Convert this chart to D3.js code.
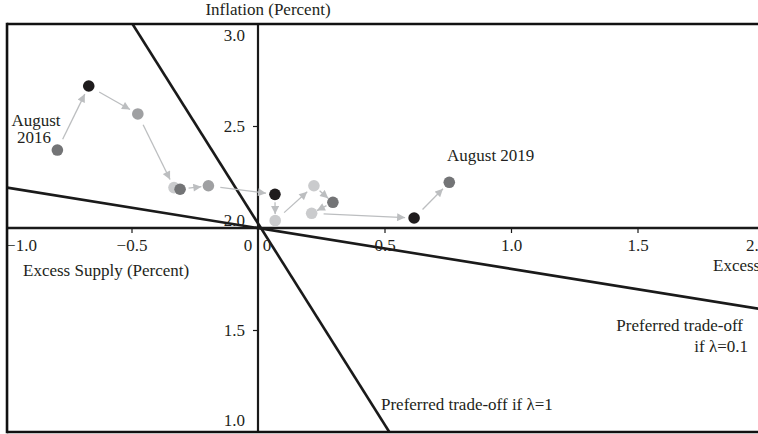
<!DOCTYPE html>
<html>
<head>
<meta charset="utf-8">
<script src="https://cdn.jsdelivr.net/npm/d3@7/dist/d3.min.js"></script>
<style>
  html, body { margin: 0; padding: 0; background: #fff; }
  svg { display: block; }
  text { font-family: "Liberation Serif", "DejaVu Serif", serif; fill: #231f20; }
</style>
</head>
<body>
<svg id="chart" width="758" height="434"></svg>
<script>
// ---- data ----
const dates = ["Aug 2016","Nov 2016","Feb 2017","May 2017","Aug 2017","Nov 2017","Feb 2018",
               "May 2018","Aug 2018","Nov 2018","Feb 2019","May 2019","Aug 2019"];
const excessDemand = [-0.793, -0.669, -0.475, -0.332, -0.308, -0.196, 0.067, 0.068, 0.221, 0.296, 0.212, 0.617, 0.756];
const inflation    = [2.382, 2.696, 2.559, 2.198, 2.190, 2.207, 2.165, 2.036, 2.207, 2.126, 2.072, 2.049, 2.224];
const shadeGroup   = ["dark","black","mid","light","dark","mid","black","light","light","dark","light","black","dark"];

const tradeoff1X = [-0.496, 0.519];   // lambda = 1
const tradeoff1Y = [3.0, 1.0];
const tradeoff01X = [-0.992, 2.0];    // lambda = 0.1
const tradeoff01Y = [2.198, 1.60];

const xTicks = [-1.0, -0.5, 0.5, 1.0, 1.5, 2.0];
const xTickLabels = ["\u22121.0", "\u22120.5", "0.5", "1.0", "1.5", "2.0"];
const yTicks = [1.0, 1.5, 2.0, 2.5, 3.0];
const yTickLabels = ["1.0", "1.5", "2.0", "2.5", "3.0"];

// ---- setup ----
const W = 758, H = 434;
const svg = d3.select("#chart");
const x = d3.scaleLinear().domain([-1, 2]).range([5, 764]);
const y = d3.scaleLinear().domain([1, 3]).range([432, 24]);
const color = d3.scaleOrdinal().domain(["black","dark","mid","light"])
  .range(["#1f1c1d", "#737476", "#9fa0a2", "#cacbcd"]);

const fLeft = x(-0.992), fTop = y(3), fBottom = y(1), fRight = W + 20;
const FS = 17;

const defs = svg.append("defs");
defs.append("clipPath").attr("id", "plot")
  .append("rect").attr("x", fLeft).attr("y", fTop).attr("width", fRight - fLeft).attr("height", fBottom - fTop);

defs.append("marker")
  .attr("id", "arrow").attr("viewBox", "0 0 10 10").attr("refX", 10).attr("refY", 5)
  .attr("markerWidth", 9).attr("markerHeight", 8).attr("markerUnits", "userSpaceOnUse")
  .attr("orient", "auto")
  .append("path").attr("d", "M0,0 L10,5 L0,10 Z").attr("fill", "#bcbec0");

const plot = svg.append("g").attr("clip-path", "url(#plot)");

// trade-off lines
const line = d3.line().x(d => x(d[0])).y(d => y(d[1]));
plot.append("path").datum(d3.zip(tradeoff1X, tradeoff1Y)).attr("d", line)
  .attr("stroke", "#1a1a1a").attr("stroke-width", 2.6).attr("fill", "none");
plot.append("path").datum(d3.zip(tradeoff01X, tradeoff01Y)).attr("d", line)
  .attr("stroke", "#1a1a1a").attr("stroke-width", 2.6).attr("fill", "none");

// axes
const xAxis = d3.axisBottom(x).tickValues(xTicks).tickSize(5).tickPadding(6)
  .tickFormat((d, i) => xTickLabels[i]);
const gx = svg.append("g").attr("transform", `translate(0,${y(2)})`).call(xAxis);
gx.select(".domain").remove();
gx.append("line").attr("x1", fLeft).attr("x2", fRight).attr("stroke", "#1a1a1a").attr("stroke-width", 2.4);
gx.selectAll(".tick line").attr("stroke", "#1a1a1a").attr("stroke-width", 1.2);
gx.selectAll(".tick text").attr("font-size", FS).attr("font-family", null).attr("fill", "#231f20");
gx.selectAll(".tick").filter(d => d === -1).select("text").attr("x", 16);
gx.selectAll(".tick").filter(d => d === -1).select("line").remove();
gx.selectAll(".tick").filter(d => d === 2).select("text").attr("x", -8);

const yAxis = d3.axisLeft(y).tickValues(yTicks).tickSize(5).tickPadding(8)
  .tickFormat((d, i) => yTickLabels[i]);
const gy = svg.append("g").attr("transform", `translate(${x(0)},0)`).call(yAxis);
gy.select(".domain").remove();
gy.append("line").attr("y1", fTop).attr("y2", fBottom).attr("stroke", "#1a1a1a").attr("stroke-width", 2.2);
gy.selectAll(".tick line").attr("stroke", "#1a1a1a").attr("stroke-width", 1.2);
gy.selectAll(".tick text").attr("font-size", FS).attr("font-family", null).attr("fill", "#231f20");
gy.selectAll(".tick").filter(d => d === 3 || d === 1 || d === 2).select("line").remove();
gy.selectAll(".tick").filter(d => d === 3).select("text").attr("dy", "0.95em").attr("y", 0);
gy.selectAll(".tick").filter(d => d === 1).select("text").attr("y", -12);
gy.selectAll(".tick").filter(d => d === 2).select("text").attr("y", -8);

// zero labels
svg.append("text").attr("x", x(0) - 10).attr("y", y(2) + 23).attr("text-anchor", "middle").attr("font-size", FS).text("0");
svg.append("text").attr("x", x(0) + 9).attr("y", y(2) + 23).attr("text-anchor", "middle").attr("font-size", FS).text("0");

// frame
svg.append("line").attr("x1", fLeft).attr("x2", fLeft).attr("y1", fTop - 1.2).attr("y2", fBottom + 1.2)
  .attr("stroke", "#111").attr("stroke-width", 2.6);
svg.append("line").attr("x1", fLeft).attr("x2", fRight).attr("y1", fTop).attr("y2", fTop)
  .attr("stroke", "#111").attr("stroke-width", 2.6);
svg.append("line").attr("x1", fLeft).attr("x2", fRight).attr("y1", fBottom).attr("y2", fBottom)
  .attr("stroke", "#111").attr("stroke-width", 2.6);

// arrows between consecutive points
const pts = excessDemand.map((v, i) => ({x: x(v), y: y(inflation[i]), g: shadeGroup[i], date: dates[i]}));
const segs = d3.pairs(pts);
svg.append("g").selectAll("line").data(segs).join("line")
  .each(function([a, b]) {
    const dx = b.x - a.x, dy = b.y - a.y, L = Math.hypot(dx, dy);
    const s = Math.min(12, L * 0.3), e = Math.min(9, L * 0.25);
    d3.select(this)
      .attr("x1", a.x + dx / L * s).attr("y1", a.y + dy / L * s)
      .attr("x2", b.x - dx / L * e).attr("y2", b.y - dy / L * e);
  })
  .attr("stroke", "#bcbec0").attr("stroke-width", 1.3)
  .attr("marker-end", (d) => Math.hypot(d[1].x - d[0].x, d[1].y - d[0].y) > 20 ? "url(#arrow)" : null);

// points
svg.append("g").selectAll("circle").data(pts).join("circle")
  .attr("cx", d => d.x).attr("cy", d => d.y).attr("r", 5.8)
  .attr("fill", d => color(d.g));

// titles and annotations
svg.append("text").attr("x", 268).attr("y", 15).attr("text-anchor", "middle").attr("font-size", FS).text("Inflation (Percent)");
svg.append("text").attr("x", 23).attr("y", 276).attr("font-size", FS).text("Excess Supply (Percent)");
svg.append("text").attr("x", 713).attr("y", 271).attr("font-size", FS).text("Excess Demand (Percent)");
svg.append("text").attr("x", 36).attr("y", 126).attr("text-anchor", "middle").attr("font-size", FS).text("August");
svg.append("text").attr("x", 34).attr("y", 143).attr("text-anchor", "middle").attr("font-size", FS).text("2016");
svg.append("text").attr("x", 447).attr("y", 161).attr("font-size", FS).text("August 2019");
svg.append("text").attr("x", 743).attr("y", 331).attr("text-anchor", "end").attr("font-size", FS).text("Preferred trade-off");
svg.append("text").attr("x", 748).attr("y", 352).attr("text-anchor", "end").attr("font-size", FS).text("if \u03bb=0.1");
svg.append("text").attr("x", 381).attr("y", 410).attr("font-size", FS).text("Preferred trade-off if \u03bb=1");
</script>
</body>
</html>
